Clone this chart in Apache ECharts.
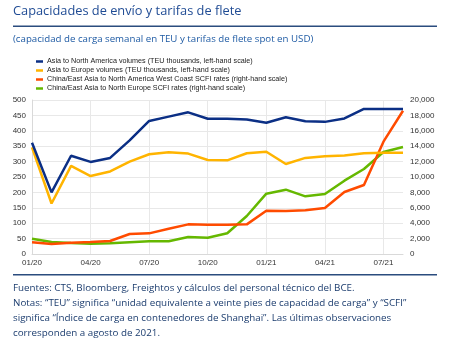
<!DOCTYPE html>
<html><head><meta charset="utf-8">
<script src="https://cdn.jsdelivr.net/npm/echarts@6/dist/echarts.min.js"></script>
<style>html,body{margin:0;padding:0;background:#fff}#c{width:450px;height:342px}</style>
</head><body><div id="c"></div>
<script>
const months = ['01/20','02/20','03/20','04/20','05/20','06/20','07/20','08/20','09/20','10/20','11/20','12/20','01/21','02/21','03/21','04/21','05/21','06/21','07/21','08/21'];
const asiaNA = [361,200,319,299,312,369,432,446,460,439,439,437,426,444,431,429,440,471,471,471];
const asiaEU = [346,164,286,253,268,300,324,330,326,305,304,327,332,292,312,317,320,327,329,329];
const scfiNA = [1515,1300,1470,1560,1690,2600,2680,3290,3850,3810,3810,3850,5630,5590,5670,5970,8050,8960,14590,18600];
const scfiEU = [1990,1560,1430,1340,1390,1515,1645,1645,2210,2120,2700,4935,7835,8355,7490,7790,9520,11040,13250,13900];
const seriesNames = ['Asia to North America volumes (TEU thousands, left-hand scale)','Asia to Europe volumes (TEU thousands, left-hand scale)','China/East Asia to North America West Coast SCFI rates (right-hand scale)','China/East Asia to North Europe SCFI rates (right-hand scale)'];
const colors = ['#0b2f85','#ffb400','#ff4b00','#65b800'];
const footLines = ['Fuentes: CTS, Bloomberg, Freightos y cálculos del personal técnico del BCE.','Notas: “TEU” significa “unidad equivalente a veinte pies de capacidad de carga” y “SCFI”','significa “Índice de carga en contenedores de Shanghai”. Las últimas observaciones','corresponden a agosto de 2021.'];

const chart = echarts.init(document.getElementById('c'));
const lbl = {fontFamily:'Liberation Sans, Arial, sans-serif', fontSize:8, color:'#333'};
const ser = (i, data, yi) => ({name:seriesNames[i], type:'line', data, yAxisIndex:yi, symbol:'none', lineStyle:{width:2.5,color:colors[i]}, itemStyle:{color:colors[i]}, z: 10-i});
chart.setOption({
  animation:false,
  color:colors,
  graphic:[
    {type:'text', left:13, top:5, style:{text:'Capacidades de envío y tarifas de flete', font:'12.8px "Open Sans", sans-serif', fill:'#1f4b94'}},
    {type:'rect', shape:{x:13,y:25.5,width:424,height:1.5}, style:{fill:'#2b4c7e'}},
    {type:'text', left:13, top:34, style:{text:'(capacidad de carga semanal en TEU y tarifas de flete spot en USD)', font:'9.7px "Open Sans", sans-serif', fill:'#1f5ba4'}},
    {type:'rect', shape:{x:13,y:274,width:424,height:1.5}, style:{fill:'#2b4c7e'}},
    {type:'text', left:13, top:281, style:{text:footLines.join('\n'), font:'9.8px "Open Sans", sans-serif', fill:'#1b3c6e', lineHeight:14.8}}
  ],
  legend:{orient:'vertical', left:31, top:52, itemWidth:7, itemHeight:2.5, itemGap:0, icon:'rect',
    textStyle:{fontFamily:'Liberation Sans, Arial, sans-serif', fontSize:7.2, color:'#222', lineHeight:9, padding:[0,0,0,-1]},
    data:seriesNames},
  grid:{left:32, right:47, top:100, bottom:88, containLabel:false},
  xAxis:{type:'category', data:months, boundaryGap:false,
    axisLine:{lineStyle:{color:'#d9d9d9'}}, axisTick:{show:false},
    axisLabel:Object.assign({interval:2, margin:5}, lbl),
    splitLine:{show:true, interval:2, lineStyle:{color:'#e8e8e8'}}},
  yAxis:[
    {type:'value', min:0, max:500, interval:50, axisLine:{show:true,lineStyle:{color:'#d9d9d9'}}, axisTick:{show:false},
      axisLabel:Object.assign({margin:6}, lbl), splitLine:{lineStyle:{color:'#e8e8e8'}}},
    {type:'value', min:0, max:20000, interval:2000, axisLine:{show:false}, axisTick:{show:false},
      axisLabel:Object.assign({margin:7, formatter:v=>v.toLocaleString('en-US')}, lbl), splitLine:{show:false}}
  ],
  series:[ser(0,asiaNA,0), ser(1,asiaEU,0), ser(2,scfiNA,1), ser(3,scfiEU,1)]
});
</script></body></html>
